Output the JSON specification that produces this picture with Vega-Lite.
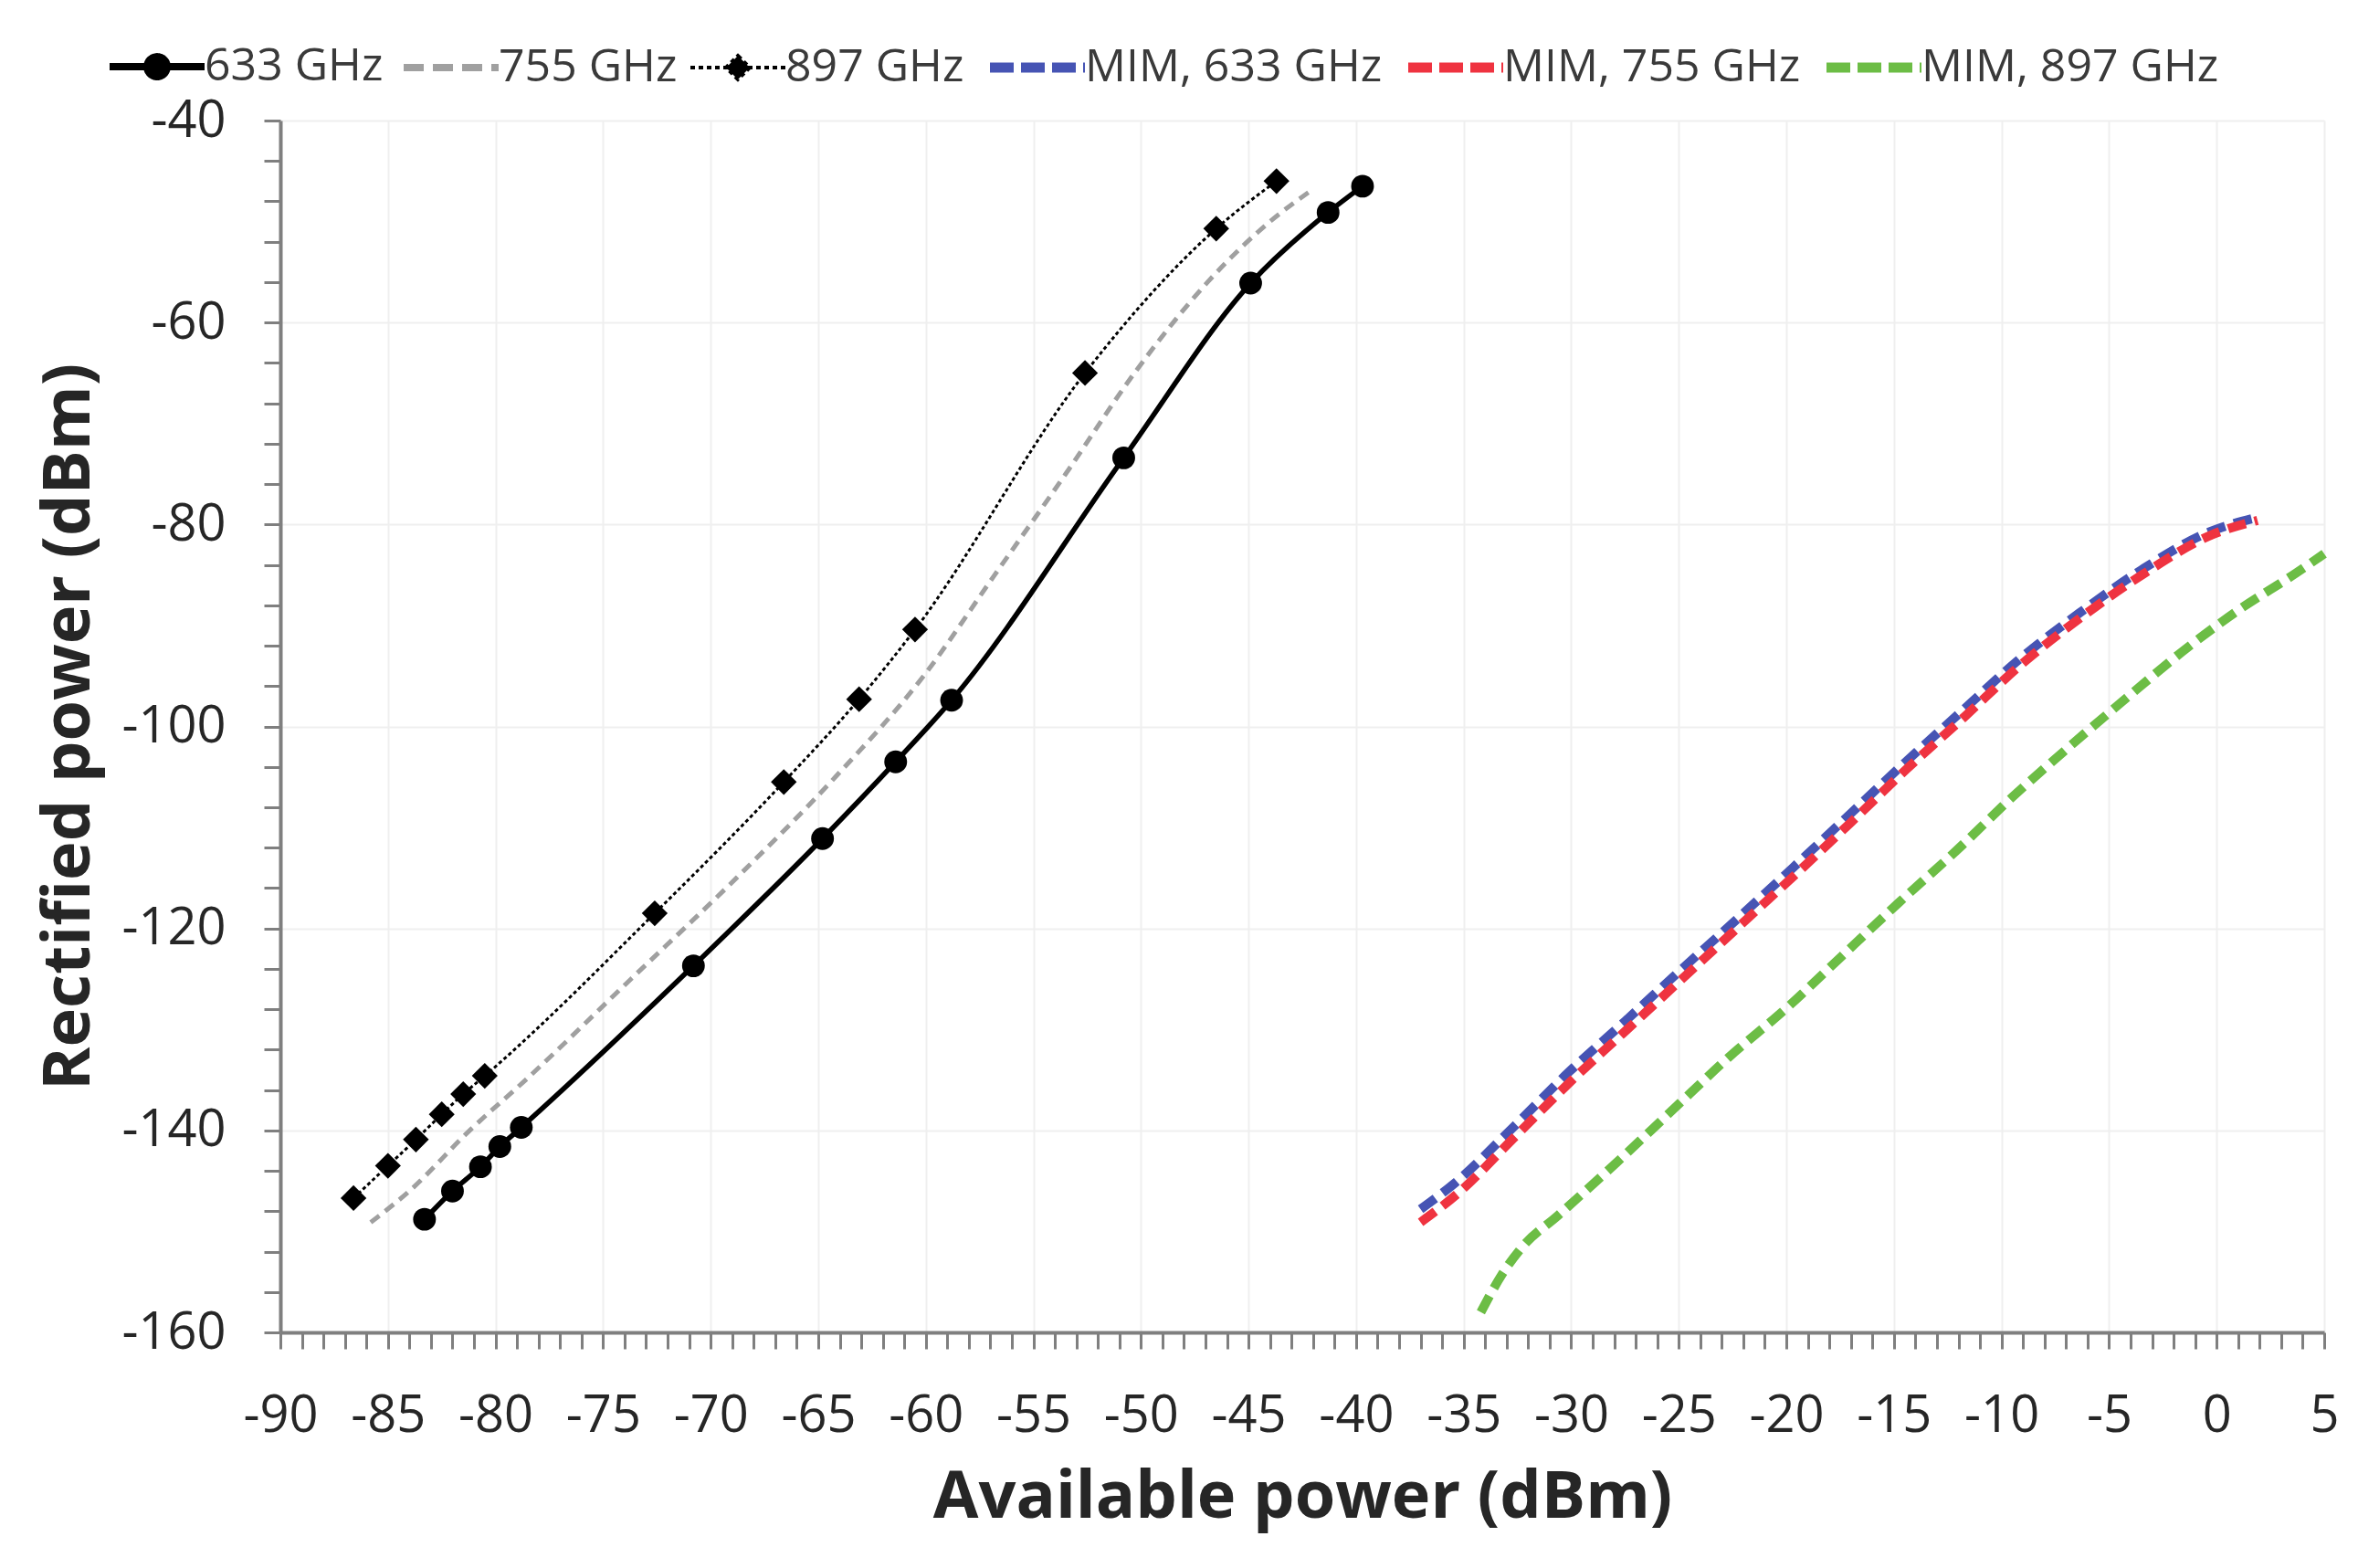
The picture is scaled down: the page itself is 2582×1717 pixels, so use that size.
{
  "$schema": "https://vega.github.io/schema/vega-lite/v6.json",
  "width": 2238,
  "height": 1327,
  "autosize": {"type": "none"},
  "padding": {"left": 307, "top": 132, "right": 37, "bottom": 258},
  "background": "white",
  "config": {"view": {"stroke": null}, "font": "Open Sans"},
  "data": {
    "values": [
      {"series": "633 GHz", "x": -83.3, "y": -148.8},
      {"series": "633 GHz", "x": -82.0, "y": -146.0},
      {"series": "633 GHz", "x": -80.7, "y": -143.6},
      {"series": "633 GHz", "x": -79.8, "y": -141.6},
      {"series": "633 GHz", "x": -78.8, "y": -139.7},
      {"series": "633 GHz", "x": -70.8, "y": -123.7},
      {"series": "633 GHz", "x": -64.8, "y": -111.1},
      {"series": "633 GHz", "x": -61.4, "y": -103.5},
      {"series": "633 GHz", "x": -58.8, "y": -97.4},
      {"series": "633 GHz", "x": -50.8, "y": -73.4},
      {"series": "633 GHz", "x": -44.9, "y": -56.1},
      {"series": "633 GHz", "x": -41.3, "y": -49.1},
      {"series": "633 GHz", "x": -39.7, "y": -46.5},

      {"series": "755 GHz", "x": -85.8, "y": -149.1},
      {"series": "755 GHz", "x": -84.0, "y": -146.0},
      {"series": "755 GHz", "x": -81.2, "y": -140.0},
      {"series": "755 GHz", "x": -78.6, "y": -135.0},
      {"series": "755 GHz", "x": -73.7, "y": -125.0},
      {"series": "755 GHz", "x": -68.8, "y": -115.0},
      {"series": "755 GHz", "x": -64.2, "y": -105.0},
      {"series": "755 GHz", "x": -60.1, "y": -95.0},
      {"series": "755 GHz", "x": -56.8, "y": -85.0},
      {"series": "755 GHz", "x": -53.5, "y": -75.0},
      {"series": "755 GHz", "x": -50.3, "y": -65.0},
      {"series": "755 GHz", "x": -46.9, "y": -56.0},
      {"series": "755 GHz", "x": -44.0, "y": -50.0},
      {"series": "755 GHz", "x": -42.0, "y": -46.8},

      {"series": "897 GHz", "x": -86.6, "y": -146.7},
      {"series": "897 GHz", "x": -85.0, "y": -143.5},
      {"series": "897 GHz", "x": -83.7, "y": -140.9},
      {"series": "897 GHz", "x": -82.5, "y": -138.4},
      {"series": "897 GHz", "x": -81.5, "y": -136.4},
      {"series": "897 GHz", "x": -80.5, "y": -134.6},
      {"series": "897 GHz", "x": -72.6, "y": -118.5},
      {"series": "897 GHz", "x": -66.6, "y": -105.5},
      {"series": "897 GHz", "x": -63.1, "y": -97.3},
      {"series": "897 GHz", "x": -60.5, "y": -90.4},
      {"series": "897 GHz", "x": -52.6, "y": -65.0},
      {"series": "897 GHz", "x": -46.5, "y": -50.7},
      {"series": "897 GHz", "x": -43.7, "y": -46.0},

      {"series": "MIM, 633 GHz", "x": -37.0, "y": -147.8},
      {"series": "MIM, 633 GHz", "x": -35.4, "y": -145.2},
      {"series": "MIM, 633 GHz", "x": -32.7, "y": -139.7},
      {"series": "MIM, 633 GHz", "x": -30.1, "y": -134.2},
      {"series": "MIM, 633 GHz", "x": -27.5, "y": -129.2},
      {"series": "MIM, 633 GHz", "x": -24.9, "y": -124.1},
      {"series": "MIM, 633 GHz", "x": -22.2, "y": -118.9},
      {"series": "MIM, 633 GHz", "x": -19.7, "y": -114.0},
      {"series": "MIM, 633 GHz", "x": -17.1, "y": -108.8},
      {"series": "MIM, 633 GHz", "x": -14.5, "y": -103.6},
      {"series": "MIM, 633 GHz", "x": -11.8, "y": -98.4},
      {"series": "MIM, 633 GHz", "x": -9.2, "y": -93.4},
      {"series": "MIM, 633 GHz", "x": -6.4, "y": -88.8},
      {"series": "MIM, 633 GHz", "x": -3.5, "y": -84.5},
      {"series": "MIM, 633 GHz", "x": -0.3, "y": -80.7},
      {"series": "MIM, 633 GHz", "x": 1.9, "y": -79.3},

      {"series": "MIM, 755 GHz", "x": -37.0, "y": -149.1},
      {"series": "MIM, 755 GHz", "x": -35.3, "y": -146.3},
      {"series": "MIM, 755 GHz", "x": -32.6, "y": -140.6},
      {"series": "MIM, 755 GHz", "x": -30.0, "y": -135.1},
      {"series": "MIM, 755 GHz", "x": -27.4, "y": -130.0},
      {"series": "MIM, 755 GHz", "x": -24.8, "y": -124.9},
      {"series": "MIM, 755 GHz", "x": -22.1, "y": -119.6},
      {"series": "MIM, 755 GHz", "x": -19.6, "y": -114.7},
      {"series": "MIM, 755 GHz", "x": -17.0, "y": -109.5},
      {"series": "MIM, 755 GHz", "x": -14.4, "y": -104.2},
      {"series": "MIM, 755 GHz", "x": -11.7, "y": -99.0},
      {"series": "MIM, 755 GHz", "x": -9.1, "y": -93.9},
      {"series": "MIM, 755 GHz", "x": -6.3, "y": -89.2},
      {"series": "MIM, 755 GHz", "x": -3.4, "y": -84.9},
      {"series": "MIM, 755 GHz", "x": -0.2, "y": -81.0},
      {"series": "MIM, 755 GHz", "x": 1.9, "y": -79.6},

      {"series": "MIM, 897 GHz", "x": -34.2, "y": -158.0},
      {"series": "MIM, 897 GHz", "x": -33.2, "y": -154.2},
      {"series": "MIM, 897 GHz", "x": -32.3, "y": -151.6},
      {"series": "MIM, 897 GHz", "x": -30.6, "y": -148.4},
      {"series": "MIM, 897 GHz", "x": -27.9, "y": -143.2},
      {"series": "MIM, 897 GHz", "x": -25.3, "y": -138.0},
      {"series": "MIM, 897 GHz", "x": -22.7, "y": -132.8},
      {"series": "MIM, 897 GHz", "x": -20.0, "y": -127.9},
      {"series": "MIM, 897 GHz", "x": -17.4, "y": -122.7},
      {"series": "MIM, 897 GHz", "x": -14.8, "y": -117.5},
      {"series": "MIM, 897 GHz", "x": -12.1, "y": -112.3},
      {"series": "MIM, 897 GHz", "x": -9.5, "y": -107.0},
      {"series": "MIM, 897 GHz", "x": -6.9, "y": -102.1},
      {"series": "MIM, 897 GHz", "x": -4.2, "y": -97.2},
      {"series": "MIM, 897 GHz", "x": -1.6, "y": -92.6},
      {"series": "MIM, 897 GHz", "x": 1.0, "y": -88.5},
      {"series": "MIM, 897 GHz", "x": 3.7, "y": -84.8},
      {"series": "MIM, 897 GHz", "x": 5.0, "y": -82.9}
    ]
  },
  "encoding": {
    "x": {
      "field": "x",
      "type": "quantitative",
      "title": "Available power (dBm)",
      "scale": {"domain": [-90, 5], "nice": false, "zero": false},
      "axis": {
        "values": [-90,-89,-88,-87,-86,-85,-84,-83,-82,-81,-80,-79,-78,-77,-76,-75,-74,-73,-72,-71,-70,-69,-68,-67,-66,-65,-64,-63,-62,-61,-60,-59,-58,-57,-56,-55,-54,-53,-52,-51,-50,-49,-48,-47,-46,-45,-44,-43,-42,-41,-40,-39,-38,-37,-36,-35,-34,-33,-32,-31,-30,-29,-28,-27,-26,-25,-24,-23,-22,-21,-20,-19,-18,-17,-16,-15,-14,-13,-12,-11,-10,-9,-8,-7,-6,-5,-4,-3,-2,-1,0,1,2,3,4,5],
        "labelExpr": "datum.value % 5 === 0 ? '' + datum.value : ''",
        "labelOverlap": false,
        "labelFlush": false,
        "labelBound": false,
        "labelFont": "Open Sans",
        "labelFontSize": 56,
        "labelColor": "#262626",
        "labelPadding": 46,
        "tickSize": 18,
        "tickColor": "#7f7f7f",
        "tickWidth": 3,
        "domainColor": "#7f7f7f",
        "domainWidth": 4,
        "grid": true,
        "gridColor": "#efefef",
        "gridWidth": 2,
        "gridOpacity": {"condition": {"test": "datum.value % 5 === 0", "value": 1}, "value": 0},
        "titleFont": "Open Sans",
        "titleFontSize": 72,
        "titleFontWeight": "bold",
        "titleColor": "#262626",
        "titlePadding": 26,
        "encode": {
          "ticks": {
            "update": {
              "y": {"value": -18},
              "y2": {"signal": "datum.value % 5 === 0 ? 18 : 0"}
            }
          }
        }
      }
    },
    "y": {
      "field": "y",
      "type": "quantitative",
      "title": "Rectified power (dBm)",
      "scale": {"domain": [-160, -40], "nice": false, "zero": false},
      "axis": {
        "values": [-160,-156,-152,-148,-144,-140,-136,-132,-128,-124,-120,-116,-112,-108,-104,-100,-96,-92,-88,-84,-80,-76,-72,-68,-64,-60,-56,-52,-48,-44,-40],
        "labelExpr": "datum.value % 20 === 0 ? '' + datum.value : ''",
        "labelOverlap": false,
        "labelFlush": false,
        "labelBound": false,
        "labelFont": "Open Sans",
        "labelFontSize": 56,
        "labelColor": "#262626",
        "labelPadding": 42,
        "tickSize": 18,
        "tickColor": "#7f7f7f",
        "tickWidth": 3,
        "domainColor": "#7f7f7f",
        "domainWidth": 4,
        "grid": true,
        "gridColor": "#efefef",
        "gridWidth": 2,
        "gridOpacity": {"condition": {"test": "datum.value % 20 === 0", "value": 1}, "value": 0},
        "titleFont": "Open Sans",
        "titleFontSize": 72,
        "titleFontWeight": "bold",
        "titleColor": "#262626",
        "titlePadding": 20,
        "encode": {
          "ticks": {
            "update": {
              "x": {"value": 18},
              "x2": {"signal": "datum.value % 20 === 0 ? -18 : 0"}
            }
          }
        }
      }
    },
    "color": {
      "field": "series",
      "type": "nominal",
      "scale": {
        "domain": ["633 GHz", "755 GHz", "897 GHz", "MIM, 633 GHz", "MIM, 755 GHz", "MIM, 897 GHz"],
        "range": ["#000000", "#a0a0a0", "#000000", "#4654b4", "#ef3340", "#6cbd45"]
      },
      "legend": {
        "title": null,
        "orient": "none",
        "direction": "horizontal",
        "columns": 6,
        "legendX": -160,
        "legendY": -84,
        "labelFont": "Open Sans",
        "labelFontSize": 50,
        "labelLimit": 800,
        "labelColor": "#3a3a3a",
        "labelOffset": 27,
        "columnPadding": 6,
        "symbolSize": 10816,
        "symbolStrokeWidth": 7,
        "encode": {
          "symbols": {
            "update": {
              "shape": {"signal": "datum.value === '633 GHz' ? 'M-1,0H1M-0.21,0A0.21,0.21,0,1,1,0.21,0A0.21,0.21,0,1,1,-0.21,0Z' : datum.value === '897 GHz' ? 'M-1,0H1M0,-0.25L0.25,0L0,0.25L-0.25,0Z' : 'M-1,0H1'"},
              "fill": {"signal": "datum.value === '633 GHz' || datum.value === '897 GHz' ? '#000000' : 'transparent'"},
              "strokeWidth": {"signal": "datum.value === '633 GHz' ? 8 : datum.value === '755 GHz' ? 8 : datum.value === '897 GHz' ? 4 : 11"},
              "strokeDash": {"signal": "datum.value === '755 GHz' ? [22, 10] : datum.value === '897 GHz' ? [5, 4] : datum.value === '633 GHz' ? [1, 0] : [26, 8]"},
              "opacity": {"value": 1}
            }
          }
        }
      }
    }
  },
  "layer": [
    {
      "transform": [{"filter": "datum.series === '755 GHz'"}],
      "mark": {"type": "line", "interpolate": "monotone", "strokeWidth": 5, "strokeDash": [12, 8]}
    },
    {
      "transform": [{"filter": "datum.series === '897 GHz'"}],
      "mark": {"type": "line", "interpolate": "monotone", "strokeWidth": 3, "strokeDash": [4, 3]}
    },
    {
      "transform": [{"filter": "datum.series === '633 GHz'"}],
      "mark": {"type": "line", "interpolate": "monotone", "strokeWidth": 5.5}
    },
    {
      "transform": [{"filter": "datum.series === '633 GHz'"}],
      "mark": {"type": "point", "shape": "circle", "filled": true, "size": 620, "opacity": 1}
    },
    {
      "transform": [{"filter": "datum.series === '897 GHz'"}],
      "mark": {"type": "point", "shape": "diamond", "filled": true, "size": 800, "opacity": 1}
    },
    {
      "transform": [{"filter": "datum.series === 'MIM, 633 GHz'"}],
      "mark": {"type": "line", "interpolate": "monotone", "strokeWidth": 10, "strokeDash": [20, 10]}
    },
    {
      "transform": [{"filter": "datum.series === 'MIM, 755 GHz'"}],
      "mark": {"type": "line", "interpolate": "monotone", "strokeWidth": 10, "strokeDash": [20, 10]}
    },
    {
      "transform": [{"filter": "datum.series === 'MIM, 897 GHz'"}],
      "mark": {"type": "line", "interpolate": "monotone", "strokeWidth": 10, "strokeDash": [20, 10]}
    }
  ]
}
